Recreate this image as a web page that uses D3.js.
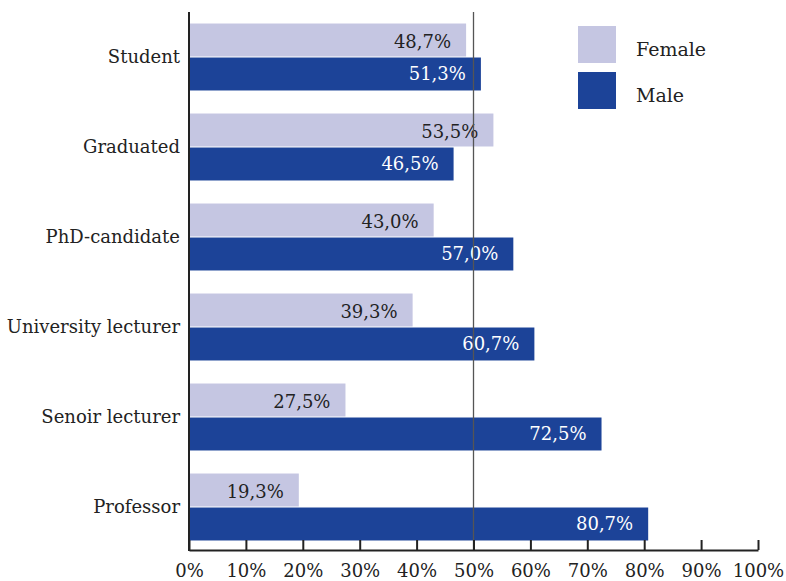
<!DOCTYPE html>
<html>
<head>
<meta charset="utf-8">
<script src="https://cdn.jsdelivr.net/npm/d3@7"></script>
<style>
  html, body { margin: 0; padding: 0; background: #fff; }
  svg { display: block; }
  text { font-family: "DejaVu Serif", serif; }
</style>
</head>
<body>
<svg id="chart" width="786" height="581"></svg>
<script>
const categories = ["Student", "Graduated", "PhD-candidate", "University lecturer", "Senoir lecturer", "Professor"];
const femaleValues = [48.7, 53.5, 43.0, 39.3, 27.5, 19.3];
const maleValues = [51.3, 46.5, 57.0, 60.7, 72.5, 80.7];
const seriesNames = ["Female", "Male"];
const xTicks = [0, 10, 20, 30, 40, 50, 60, 70, 80, 90, 100];
const referenceLine = 50;

const colors = { Female: "#c5c6e2", Male: "#1c4398" };
const labelColors = { Female: "#222222", Male: "#ffffff" };

const svg = d3.select("#chart");
const locale = d3.formatLocale({ decimal: ",", thousands: ".", grouping: [3], currency: ["", "€"] });
const fmt = v => locale.format(".1f")(v) + "%";

const x = d3.scaleLinear().domain([0, 100]).range([189, 758]);
const y = d3.scaleBand().domain(categories).range([12, 552]).paddingInner(0.256).paddingOuter(0.128);
const ySub = d3.scaleBand().domain(seriesNames).range([0, y.bandwidth()]).paddingInner(0.03);

const rows = categories.map((c, i) => ({ cat: c, Female: femaleValues[i], Male: maleValues[i] }));

// Bars
const groups = svg.append("g").selectAll("g").data(rows).join("g")
  .attr("transform", d => `translate(0,${y(d.cat)})`);

seriesNames.forEach(s => {
  groups.append("rect")
    .attr("x", x(0))
    .attr("y", ySub(s))
    .attr("width", d => x(d[s]) - x(0))
    .attr("height", ySub.bandwidth())
    .attr("fill", colors[s]);
  groups.append("text")
    .attr("x", d => x(d[s]) - 15)
    .attr("y", ySub(s) + ySub.bandwidth() / 2 + (s === "Female" ? 2 : 0))
    .attr("dy", "0.36em")
    .attr("text-anchor", "end")
    .attr("font-size", 18)
    .attr("fill", labelColors[s])
    .text(d => fmt(d[s]));
});

// 50% reference line
svg.append("line")
  .attr("x1", x(referenceLine)).attr("x2", x(referenceLine))
  .attr("y1", 12).attr("y2", 550)
  .attr("stroke", "#555").attr("stroke-width", 1.3);

// Bottom axis
const xAxis = svg.append("g")
  .attr("transform", "translate(0,550)")
  .call(d3.axisBottom(x).tickValues(xTicks).tickFormat(d => d + "%")
    .tickSizeInner(-10).tickSizeOuter(0).tickPadding(14));
xAxis.select(".domain").attr("stroke", "#222").attr("stroke-width", 2);
xAxis.selectAll(".tick line").attr("stroke", "#222").attr("stroke-width", 2);
xAxis.selectAll(".tick text").attr("font-size", 18).attr("fill", "#222")
  .attr("font-family", "DejaVu Serif, serif");

// Left axis
const yAxis = svg.append("g")
  .attr("transform", `translate(${x(0)},0)`)
  .call(d3.axisLeft(y).tickSize(0).tickPadding(9));
yAxis.select(".domain").attr("stroke", "#222").attr("stroke-width", 2)
  .attr("d", "M0,12V551");
yAxis.selectAll(".tick text").attr("font-size", 18).attr("fill", "#222")
  .attr("font-family", "DejaVu Serif, serif");

// Legend
const legend = svg.append("g").selectAll("g").data(seriesNames).join("g")
  .attr("transform", (d, i) => `translate(578,${26 + i * 46})`);
legend.append("rect").attr("width", 38).attr("height", 37).attr("fill", d => colors[d]);
legend.append("text").attr("x", 58).attr("y", 23).attr("dy", "0.36em")
  .attr("font-size", 19).attr("fill", "#222").text(d => d);
</script>
</body>
</html>
